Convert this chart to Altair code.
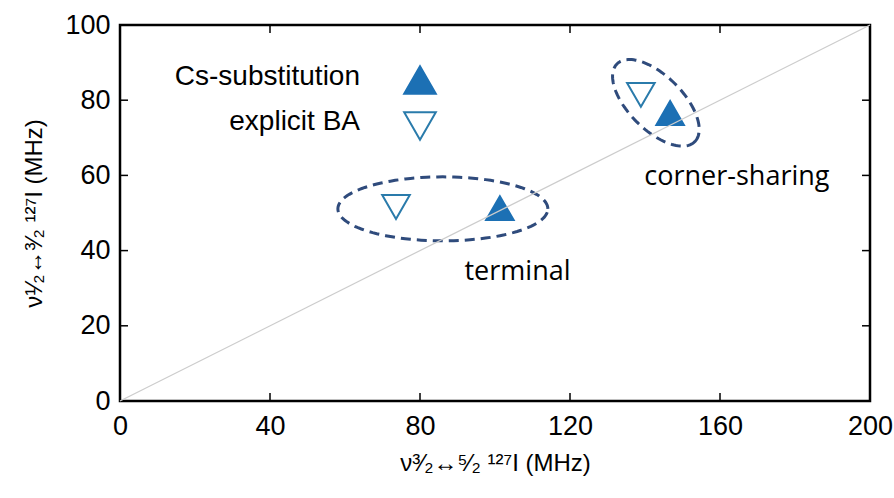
import altair as alt
import numpy as np
import pandas as pd

# --- data -----------------------------------------------------------------
series = ["Cs-substitution", "explicit BA", "Cs-substitution", "explicit BA"]
nu_32_52 = [101.3, 73.6, 146.7, 138.9]   # x: nu(3/2<->5/2) 127I, MHz
nu_12_32 = [51.3, 51.6, 76.6, 81.4]      # y: nu(1/2<->3/2) 127I, MHz

legend_entries = ["Cs-substitution", "explicit BA"]

x_ticks = [0, 40, 80, 120, 160, 200]
y_ticks = [0, 20, 40, 60, 80, 100]

diag_x = [0, 200]
diag_y = [0, 100]

group_labels = ["terminal", "corner-sharing"]
group_label_x = [106.0, 164.5]
group_label_y = [34.3, 59.6]

# grouping ellipses: centre (data units), semi-axes (px), tilt (deg)
ell_name = ["terminal", "corner-sharing"]
ell_cx = [86.1, 142.9]
ell_cy = [51.1, 79.3]
ell_a = [105.0, 55.0]
ell_b = [32.0, 27.0]
ell_tilt = [0.0, -45.0]

W, H = 750, 376
PX_X = W / 200.0
PX_Y = H / 100.0

BLUE = "#1c70b4"
BLUE_EDGE = "#2a7bab"
NAVY = "#2f4b7c"
FONT = "Liberation Sans"

pts = pd.DataFrame({"series": series, "x": nu_32_52, "y": nu_12_32})
diag = pd.DataFrame({"x": diag_x, "y": diag_y})
labels = pd.DataFrame({"text": group_labels, "x": group_label_x, "y": group_label_y})
leg = pd.DataFrame({"series": legend_entries, "row": list(range(len(legend_entries)))})

rows = []
for name, cx, cy, a, b, tilt in zip(ell_name, ell_cx, ell_cy, ell_a, ell_b, ell_tilt):
    th = np.radians(tilt)
    for i, t in enumerate(np.linspace(0, 2 * np.pi, 121)):
        px = a * np.cos(t) * np.cos(th) - b * np.sin(t) * np.sin(th)
        py = a * np.cos(t) * np.sin(th) + b * np.sin(t) * np.cos(th)
        rows.append({"g": name, "i": i, "x": cx + px / PX_X, "y": cy + py / PX_Y})
ell = pd.DataFrame(rows)

xs = alt.Scale(domain=[0, 200], nice=False, zero=False)
ys = alt.Scale(domain=[0, 100], nice=False, zero=False)

x_axis = alt.Axis(values=x_ticks, grid=False, ticks=False, tickSize=0, domain=False,
                  labelFont=FONT, labelFontSize=27, labelColor="black", labelPadding=12,
                  labelFlush=False,
                  title="ν³⁄₂↔⁵⁄₂  ¹²⁷I (MHz)", titleFont=FONT, titleFontSize=24,
                  titleFontWeight="normal", titleColor="black", titlePadding=12)
y_axis = alt.Axis(values=y_ticks, grid=False, ticks=False, tickSize=0, domain=False,
                  labelFont=FONT, labelFontSize=27, labelColor="black", labelPadding=10,
                  labelFlush=False,
                  title="ν¹⁄₂↔³⁄₂  ¹²⁷I (MHz)", titleFont=FONT, titleFontSize=24,
                  titleFontWeight="normal", titleColor="black", titlePadding=18)

dom = legend_entries
shape_enc = alt.Shape("series:N", legend=None,
                      scale=alt.Scale(domain=dom, range=["triangle-up", "triangle-down"]))
fill_enc = alt.Fill("series:N", legend=None,
                    scale=alt.Scale(domain=dom, range=[BLUE, "white"]))
stroke_enc = alt.Stroke("series:N", legend=None,
                        scale=alt.Scale(domain=dom, range=[BLUE, BLUE_EDGE]))

points = alt.Chart(pts).mark_point(filled=False, size=760, strokeWidth=2, opacity=1).encode(
    x=alt.X("x:Q", scale=xs, axis=x_axis),
    y=alt.Y("y:Q", scale=ys, axis=y_axis),
    shape=shape_enc, fill=fill_enc, stroke=stroke_enc,
)

# key in the upper-left corner: label on the left, symbol on the right
leg_base = alt.Chart(leg).transform_calculate(
    ty="52 + 45 * datum.row", sy="55 + 46 * datum.row"
)
leg_text = leg_base.mark_text(font=FONT, fontSize=28, color="black", align="right",
                              baseline="middle").encode(
    x=alt.value(240), y=alt.Y("ty:Q", scale=None), text="series:N"
)
leg_sym = leg_base.mark_point(filled=False, size=1000, strokeWidth=2, opacity=1).encode(
    x=alt.value(300), y=alt.Y("sy:Q", scale=None),
    shape=shape_enc, fill=fill_enc, stroke=stroke_enc,
)

diag_line = alt.Chart(diag).mark_line(color="#cccccc", strokeWidth=1.2).encode(
    x=alt.X("x:Q", scale=xs), y=alt.Y("y:Q", scale=ys)
)

ellipses = alt.Chart(ell).mark_line(color=NAVY, strokeWidth=3, strokeDash=[10, 6]).encode(
    x=alt.X("x:Q", scale=xs), y=alt.Y("y:Q", scale=ys),
    detail="g:N", order="i:Q"
)

group_text = alt.Chart(labels).mark_text(font="Open Sans", fontSize=27, color="black").encode(
    x=alt.X("x:Q", scale=xs), y=alt.Y("y:Q", scale=ys), text="text:N"
)

# inward-pointing ticks on all four sides
xt = pd.DataFrame({"v": x_ticks[1:-1]})
yt = pd.DataFrame({"v": y_ticks[1:-1]})
tick_style = dict(color="black", strokeWidth=1.5)
tb = alt.Chart(xt).mark_rule(**tick_style).encode(
    x=alt.X("v:Q", scale=xs), y=alt.value(H), y2=alt.value(H - 8))
tt = alt.Chart(xt).mark_rule(**tick_style).encode(
    x=alt.X("v:Q", scale=xs), y=alt.value(0), y2=alt.value(8))
tl = alt.Chart(yt).mark_rule(**tick_style).encode(
    y=alt.Y("v:Q", scale=ys), x=alt.value(0), x2=alt.value(8))
tr = alt.Chart(yt).mark_rule(**tick_style).encode(
    y=alt.Y("v:Q", scale=ys), x=alt.value(W), x2=alt.value(W - 8))

chart = alt.layer(
    ellipses, points, diag_line, group_text, leg_text, leg_sym, tb, tt, tl, tr
).properties(
    width=W, height=H,
    background="white",
    autosize=alt.AutoSizeParams(type="none"),
    padding={"left": 120, "top": 25, "right": 24, "bottom": 97},
).configure_view(
    stroke="black", strokeWidth=2.5
)

chart.save("out.html", embed_options={"renderer": "svg", "actions": False})
